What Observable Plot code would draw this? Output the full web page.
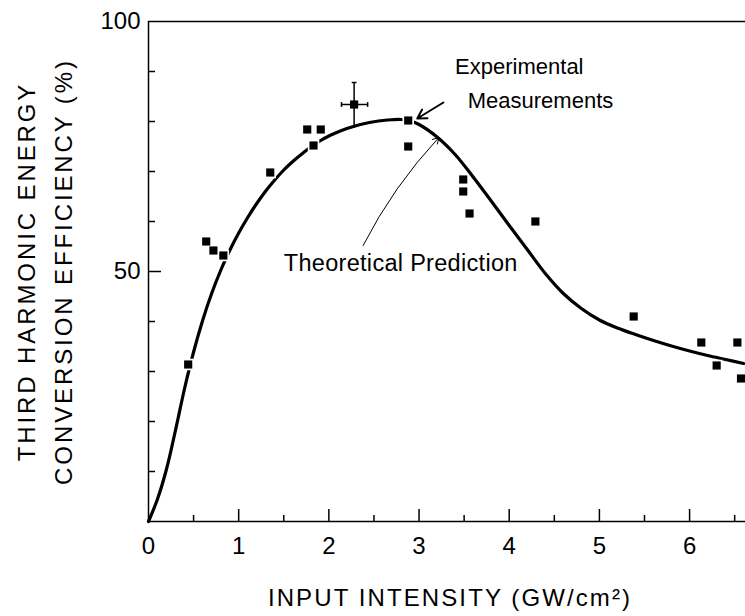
<!DOCTYPE html>
<html><head><meta charset="utf-8">
<script src="https://cdn.jsdelivr.net/npm/d3@7"></script>
<script src="https://cdn.jsdelivr.net/npm/@observablehq/plot@0.6"></script>
<style>body{margin:0;background:#fff}#chart{width:745px;height:616px}</style>
</head><body><div id="chart"></div>
<script>
// Experimental measurements
const expX = [0.44, 0.64, 0.72, 0.83, 1.35, 1.76, 1.91, 1.83, 2.28, 2.88, 2.88, 3.49, 3.49, 3.56, 4.29, 5.38, 6.13, 6.53, 6.30, 6.57];
const expY = [31.4, 56.0, 54.2, 53.2, 69.8, 78.4, 78.4, 75.2, 83.4, 80.2, 75.0, 68.4, 66.0, 61.6, 60.0, 41.0, 35.8, 35.8, 31.2, 28.6];
// Theoretical prediction curve
const theoryX = [0, 0.1, 0.2, 0.3, 0.4, 0.5, 0.6, 0.7, 0.8, 0.9, 1.0, 1.1, 1.2, 1.3, 1.4, 1.5, 1.6, 1.7, 1.8, 1.9, 2.0, 2.1, 2.2, 2.3, 2.4, 2.5, 2.6, 2.7, 2.8, 2.9, 3.0, 3.2, 3.4, 3.6, 3.8, 4.0, 4.2, 4.4, 4.6, 4.8, 5.0, 5.2, 5.4, 5.6, 5.8, 6.0, 6.2, 6.4, 6.6];
const theoryY = [0, 4.5, 10.5, 18.3, 26.6, 33.9, 40.2, 45.6, 50.2, 54.2, 57.7, 60.8, 63.6, 66.1, 68.3, 70.3, 72.0, 73.5, 74.9, 76.1, 77.1, 77.9, 78.6, 79.15, 79.6, 79.95, 80.2, 80.35, 80.4, 80.1, 79.4, 76.9, 73.4, 68.9, 64.1, 59.2, 54.4, 49.6, 45.6, 42.6, 40.3, 38.7, 37.4, 36.2, 35.1, 34.1, 33.2, 32.4, 31.6];
// Error bar on one measurement
const errX = [2.28], errY = [83.4];
const errXLow = [2.14], errXHigh = [2.43];
const errYLow = [78.6], errYHigh = [87.8];
// Ticks
const xTickLabels = [0, 1, 2, 3, 4, 5, 6];
const xMinorTicks = [0.5, 1.5, 2.5, 3.5, 4.5, 5.5, 6.5];
const yTickLabels = [50, 100];
const yMinorTicks = [10, 20, 30, 40, 60, 70, 80, 90];
// Annotations
const noteText = ["Experimental", "Measurements", "Theoretical Prediction"];
const noteX = [3.40, 3.54, 1.50];
const noteY = [91.0, 84.2, 51.6];
const noteSize = [22, 22, 23.5];
const arrowFrom = [[3.27, 83.8], [2.38, 55.2]];
const arrowTo = [[2.98, 80.6], [3.22, 76.8]];
const yLabel = "THIRD HARMONIC ENERGY\nCONVERSION EFFICIENCY (%)";
const xLabel = "INPUT INTENSITY (GW/cm²)";

const W = 745, H = 616, mL = 148, mR = 0, mT = 21, mB = 95;
const frameW = W - mL - mR, frameH = H - mT - mB;
const font = "'Liberation Sans', Arial, Helvetica, sans-serif";

const exp = expX.map((x, i) => ({x, y: expY[i]}));
const theory = theoryX.map((x, i) => ({x, y: theoryY[i]}));
const err = errX.map((x, i) => ({x, y: errY[i], x1: errXLow[i], x2: errXHigh[i], y1: errYLow[i], y2: errYHigh[i]}));
const notes = noteText.map((t, i) => ({t, x: noteX[i], y: noteY[i], s: noteSize[i]}));
const arrows = arrowFrom.map((f, i) => ({x1: f[0], y1: f[1], x2: arrowTo[i][0], y2: arrowTo[i][1]}));

const hline = {draw(ctx, size) { const r = Math.sqrt(size / Math.PI); ctx.moveTo(-r, 0); ctx.lineTo(r, 0); }};
const vline = {draw(ctx, size) { const r = Math.sqrt(size / Math.PI); ctx.moveTo(0, -r); ctx.lineTo(0, r); }};

const chart = Plot.plot({
  width: W, height: H,
  marginLeft: mL, marginRight: mR, marginTop: mT, marginBottom: mB,
  x: {domain: [0, 6.62]},
  y: {domain: [0, 100]},
  style: {fontFamily: font, background: "white", color: "black"},
  marks: [
    Plot.ruleY([0, 100], {stroke: "black", strokeWidth: 1.5}),
    Plot.ruleX([0], {stroke: "black", strokeWidth: 1.5}),
    Plot.ruleX(xMinorTicks, {stroke: "black", strokeWidth: 1.5, insetTop: frameH - 6}),
    Plot.ruleX(xTickLabels.slice(1), {stroke: "black", strokeWidth: 1.5, insetTop: frameH - 12}),
    Plot.ruleY(yMinorTicks, {stroke: "black", strokeWidth: 1.5, insetRight: frameW - 7}),
    Plot.ruleY([50], {stroke: "black", strokeWidth: 1.5, insetRight: frameW - 13}),
    Plot.axisX(xTickLabels, {tickSize: 0, tickPadding: 15, fontSize: 24, label: null}),
    Plot.axisY(yTickLabels, {tickSize: 0, tickPadding: 8, fontSize: 24, label: null}),
    Plot.line(theory, {x: "x", y: "y", curve: "catmull-rom", stroke: "black", strokeWidth: 3.2}),
    Plot.dot(exp, {x: "x", y: "y", symbol: "square", r: 6.5, fill: "white"}),
    Plot.dot(exp, {x: "x", y: "y", symbol: "square", r: 4.6, fill: "black"}),
    Plot.ruleX(err, {x: "x", y1: "y1", y2: "y2", stroke: "black", strokeWidth: 1.5}),
    Plot.ruleY(err, {y: "y", x1: "x1", x2: "x2", stroke: "black", strokeWidth: 1.5}),
    Plot.dot(err, {x: "x", y: "y2", symbol: hline, r: 2.4, stroke: "black", strokeWidth: 1.5}),
    Plot.dot(err, {x: "x1", y: "y", symbol: vline, r: 2.4, stroke: "black", strokeWidth: 1.5}),
    Plot.dot(err, {x: "x2", y: "y", symbol: vline, r: 2.4, stroke: "black", strokeWidth: 1.5}),
    Plot.arrow([arrows[0]], {x1: "x1", y1: "y1", x2: "x2", y2: "y2", stroke: "black", strokeWidth: 2, headLength: 10}),
    Plot.arrow([arrows[1]], {x1: "x1", y1: "y1", x2: "x2", y2: "y2", stroke: "black", strokeWidth: 1, headLength: 10, bend: 8}),
    Plot.text(notes, {x: "x", y: "y", text: "t", textAnchor: "start", fontSize: d => d.s, fill: "black"}),
    Plot.text([yLabel], {text: d => d, frameAnchor: "left", textAnchor: "middle", rotate: -90, dx: -107, fontSize: 24, lineHeight: 1.55, fill: "black"}),
    Plot.text([xLabel], {text: d => d, frameAnchor: "bottom", dy: 84, dx: 3, fontSize: 24, fill: "black"})
  ]
});
d3.select(chart).selectAll("text")
  .filter(function() { return this.textContent.includes("HARMONIC"); })
  .style("letter-spacing", "2.9px");
d3.select(chart).selectAll("text")
  .filter(function() { return this.textContent.includes("INTENSITY"); })
  .style("letter-spacing", "2.1px");
d3.select(chart).selectAll("text")
  .filter(function() { return this.textContent === "Theoretical Prediction"; })
  .style("letter-spacing", "0.3px");
document.getElementById("chart").appendChild(chart);
</script>
</body></html>
